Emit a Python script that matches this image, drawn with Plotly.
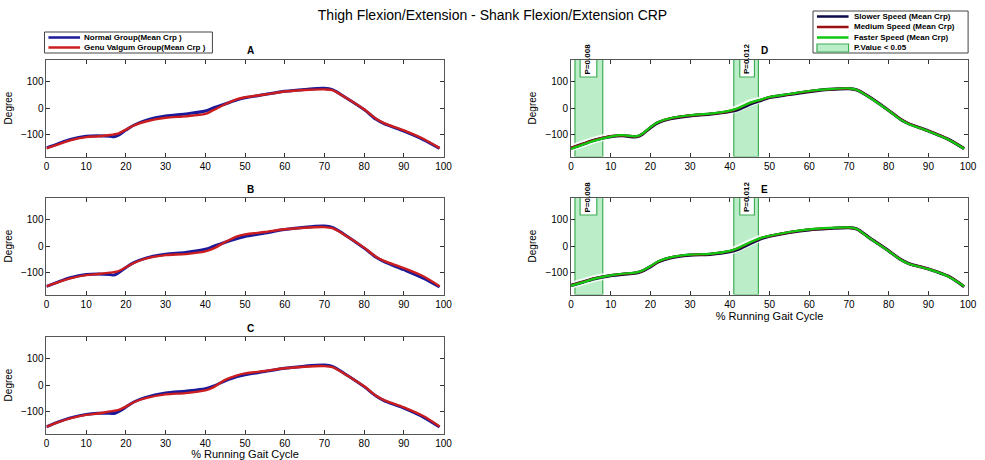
import plotly.graph_objects as go

# ---------------- data ----------------
gait_pct = [0, 3, 6, 10, 13, 16, 17, 18, 20, 22, 25, 30, 35, 40, 42, 45, 48, 50,
            55, 60, 65, 70, 72, 75, 80, 83, 85, 90, 95, 99]

# Panel A
a_normal = [-148, -132, -117, -105, -103, -105, -107, -102, -82, -64, -46, -30, -22, -11, 0, 15, 30, 38,
            50, 62, 69, 73, 68, 42, -6, -42, -58, -86, -118, -150]
a_valgum = [-150, -135, -120, -108, -105, -100, -98, -95, -80, -65, -50, -36, -31, -22, -8, 14, 33, 40,
            50, 61, 67, 69, 66, 42, -5, -40, -56, -83, -115, -149]
# Panel B
b_normal = [-150, -133, -118, -106, -104, -106, -108, -101, -80, -62, -45, -31, -24, -12, -2, 14, 28, 35,
            48, 61, 70, 74, 69, 43, -8, -42, -58, -88, -120, -152]
b_valgum = [-150, -134, -120, -108, -104, -99, -97, -94, -79, -63, -47, -34, -30, -20, -10, 15, 36, 43,
            52, 62, 68, 70, 66, 42, -6, -40, -55, -82, -113, -149]
# Panel C
c_normal = [-155, -137, -122, -109, -105, -105, -106, -100, -82, -63, -46, -30, -23, -14, -4, 15, 31, 38,
            50, 62, 70, 74, 69, 43, -6, -41, -58, -86, -120, -156]
c_valgum = [-155, -138, -124, -111, -106, -98, -96, -93, -80, -64, -49, -35, -30, -20, -9, 19, 36, 43,
            52, 62, 68, 70, 66, 42, -5, -40, -56, -83, -116, -154]
# Panel D
d_slower = [-149, -134, -119, -106, -103, -107, -105, -97, -73, -54, -40, -29, -23, -13, -6, 14, 29, 39,
            50, 61, 69, 72, 67, 42, -9, -42, -58, -85, -116, -151]
d_medium = [-148, -133, -118, -105, -102, -106, -104, -96, -72, -53, -39, -28, -22, -11, -2, 18, 31, 40,
            51, 62, 69, 72, 67, 42, -9, -42, -58, -85, -116, -150]
d_faster = [-152, -136, -121, -106, -101, -105, -103, -95, -71, -52, -38, -27, -21, -10, -1, 19, 32, 41,
            52, 63, 70, 73, 67, 41, -10, -43, -59, -86, -117, -151]
# Panel E
e_slower = [-146, -134, -121, -110, -105, -101, -98, -93, -77, -59, -44, -34, -31, -21, -13, 8, 28, 36,
            50, 60, 65, 68, 63, 32, -18, -50, -65, -85, -112, -151]
e_medium = [-145, -133, -120, -109, -104, -100, -97, -92, -76, -58, -43, -33, -30, -19, -9, 12, 30, 37,
            51, 61, 66, 68, 63, 32, -18, -50, -65, -85, -112, -150]
e_faster = [-147, -135, -121, -109, -103, -99, -96, -91, -75, -57, -42, -32, -29, -18, -8, 13, 31, 38,
            52, 62, 67, 69, 63, 31, -19, -51, -66, -86, -113, -150]

group_names = ["Normal Group(Mean Crp )", "Genu Valgum Group(Mean Crp )"]
speed_names = ["Slower Speed (Mean Crp)", "Medium Speed (Mean Crp)", "Faster Speed (Mean Crp)"]
sig_label = "P.Value < 0.05"

# significant regions: start, end, notch start, notch end, p text
sig_start = [1, 41]
sig_end = [8, 47.2]
notch_start = [2.3, 42.5]
notch_end = [6.5, 46.2]
p_text = ["P=0.008", "P=0.012"]

x_ticks = [0, 10, 20, 30, 40, 50, 60, 70, 80, 90, 100]
y_ticks = [-100, 0, 100]
panel_titles = ["A", "B", "C", "D", "E"]

# ---------------- style ----------------
W, H = 985, 460
FONT = "Arial, Liberation Sans, sans-serif"
BLUE, RED = "#1a1a9a", "#cc1e1e"
NAVY, DRED, GREEN = "#0a0a48", "#9a1010", "#10c810"
SIG_FILL = "rgba(150,228,170,0.65)"
SIG_LINE = "#3fae55"


def px(x):
    return x / W


def py(y):
    return 1 - y / H


left_dom = [px(44), px(446)]
right_dom = [px(575), px(977)]
row_dom = [[py(156.5), py(59.5)], [py(294.5), py(197.5)], [py(433.5), py(336.5)]]

fig = go.Figure()

panels = [
    (1, left_dom, row_dom[0], [(a_normal, BLUE, 3.0), (a_valgum, RED, 2.4)]),
    (2, left_dom, row_dom[1], [(b_normal, BLUE, 3.0), (b_valgum, RED, 2.4)]),
    (3, left_dom, row_dom[2], [(c_normal, BLUE, 3.0), (c_valgum, RED, 2.4)]),
    (4, right_dom, row_dom[0], [(d_slower, NAVY, 3.2), (d_medium, DRED, 2.4), (d_faster, GREEN, 2.2)]),
    (5, right_dom, row_dom[1], [(e_slower, NAVY, 3.2), (e_medium, DRED, 2.4), (e_faster, GREEN, 2.2)]),
]

shapes = []
annotations = []

for idx, xd, yd, series in panels:
    sfx = "" if idx == 1 else str(idx)
    xa, ya = "x" + sfx, "y" + sfx
    if idx >= 4:
        # white glow under mean curves
        fig.add_trace(go.Scatter(x=gait_pct, y=series[1][0], xaxis=xa, yaxis=ya, mode="lines",
                                 line=dict(color="rgba(255,255,255,0.8)", width=7, shape="spline",
                                           smoothing=0.8),
                                 hoverinfo="skip", showlegend=False))
        for s0, s1, n0, n1, pt in zip(sig_start, sig_end, notch_start, notch_end, p_text):
            shapes.append(dict(type="rect", xref=xa, yref=ya, x0=s0, x1=s1, y0=-180, y1=180,
                               fillcolor=SIG_FILL, line=dict(color=SIG_LINE, width=1.2), layer="below"))
            shapes.append(dict(type="rect", xref=xa, yref=ya, x0=n0, x1=n1, y0=115, y1=180,
                               fillcolor="white", line=dict(color=SIG_LINE, width=1.2), layer="below"))
            annotations.append(dict(x=(n0 + n1) / 2, y=117, xref=xa, yref=ya, text="<b>" + pt + "</b>",
                                    showarrow=False, textangle=-90,
                                    font=dict(family=FONT, size=8, color="black"),
                                    xanchor="center", yanchor="bottom"))
    for vals, col, wid in series:
        fig.add_trace(go.Scatter(x=gait_pct, y=vals, xaxis=xa, yaxis=ya, mode="lines",
                                 line=dict(color=col, width=wid, shape="spline", smoothing=0.8),
                                 showlegend=False))
    axis_common = dict(showline=True, linecolor="#555", linewidth=1, mirror="ticks", ticks="inside",
                       ticklen=4, tickcolor="#333", showgrid=False, zeroline=False,
                       tickfont=dict(family=FONT, size=10, color="black"))
    xkw = dict(domain=xd, range=[0, 100], tickvals=x_ticks, anchor=ya, **axis_common)
    if idx in (3, 5):
        xkw["title"] = dict(text="% Running Gait Cycle", font=dict(family=FONT, size=11, color="black"),
                            standoff=3)
    ykw = dict(domain=yd, range=[-180, 180], tickvals=y_ticks, anchor=xa,
               title=dict(text="Degree", font=dict(family=FONT, size=10, color="black"), standoff=6),
               **axis_common)
    fig.layout["xaxis" + sfx] = xkw
    fig.layout["yaxis" + sfx] = ykw
    annotations.append(dict(x=(xd[0] + xd[1]) / 2, y=yd[1], xref="paper", yref="paper",
                            text="<b>" + panel_titles[idx - 1] + "</b>", showarrow=False,
                            yanchor="bottom", yshift=1, font=dict(family=FONT, size=10, color="black")))

# ---------------- custom legends ----------------
# legend 1 (groups)
shapes.append(dict(type="rect", xref="paper", yref="paper", x0=px(42), x1=px(212), y0=py(53), y1=py(32),
                   line=dict(color="#444", width=1), fillcolor="white"))
for i, (nm, col) in enumerate(zip(group_names, [BLUE, RED])):
    yy = 37.5 + i * 10
    shapes.append(dict(type="line", xref="paper", yref="paper", x0=px(46), x1=px(78), y0=py(yy), y1=py(yy),
                       line=dict(color=col, width=2.5)))
    annotations.append(dict(x=px(80), y=py(yy), xref="paper", yref="paper", text="<b>" + nm + "</b>",
                            showarrow=False, xanchor="left", yanchor="middle",
                            font=dict(family=FONT, size=8, color="black")))

# legend 2 (speeds)
shapes.append(dict(type="rect", xref="paper", yref="paper", x0=px(820), x1=px(977), y0=py(53), y1=py(11),
                   line=dict(color="#444", width=1), fillcolor="white"))
for i, (nm, col) in enumerate(zip(speed_names, [NAVY, DRED, GREEN])):
    yy = 16.5 + i * 10.5
    shapes.append(dict(type="line", xref="paper", yref="paper", x0=px(824), x1=px(856), y0=py(yy), y1=py(yy),
                       line=dict(color=col, width=2.5)))
    annotations.append(dict(x=px(859), y=py(yy), xref="paper", yref="paper", text="<b>" + nm + "</b>",
                            showarrow=False, xanchor="left", yanchor="middle",
                            font=dict(family=FONT, size=8, color="black")))
shapes.append(dict(type="rect", xref="paper", yref="paper", x0=px(824), x1=px(856), y0=py(52), y1=py(44),
                   line=dict(color=SIG_LINE, width=1.2), fillcolor=SIG_FILL))
annotations.append(dict(x=px(859), y=py(48), xref="paper", yref="paper", text="<b>" + sig_label + "</b>",
                        showarrow=False, xanchor="left", yanchor="middle",
                        font=dict(family=FONT, size=8, color="black")))

fig.update_layout(
    width=W, height=H, margin=dict(l=0, r=0, t=0, b=0),
    paper_bgcolor="white", plot_bgcolor="white",
    title=dict(text="Thigh Flexion/Extension - Shank Flexion/Extension CRP", x=0.5, xanchor="center",
               y=py(15), yanchor="middle", font=dict(family=FONT, size=14, color="black")),
    shapes=shapes, annotations=annotations, showlegend=False,
)

fig.write_html("out.html")
